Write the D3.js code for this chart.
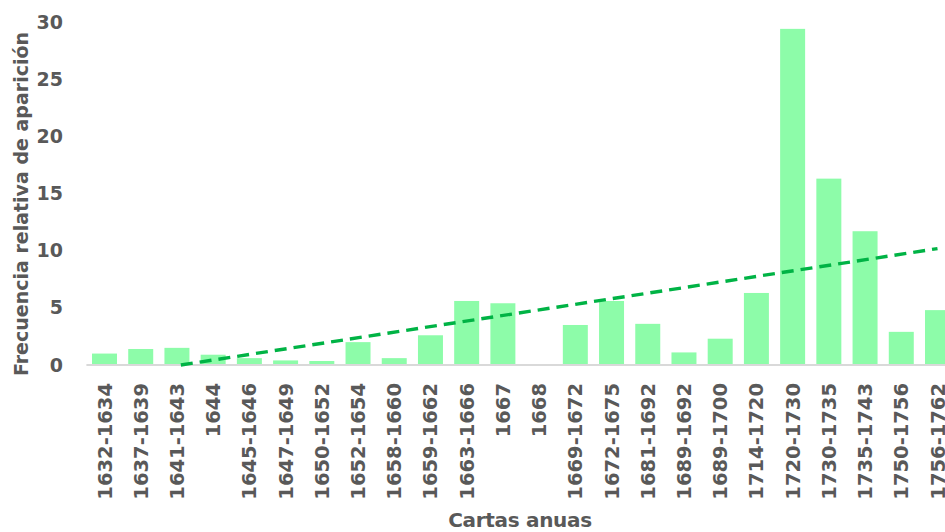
<!DOCTYPE html>
<html>
<head>
<meta charset="utf-8">
<script src="https://cdn.jsdelivr.net/npm/d3@7"></script>
<style>
  html, body { margin: 0; padding: 0; background: #fff; overflow: hidden; }
  svg { display: block; }
  text { font-family: "DejaVu Sans", Verdana, sans-serif; font-weight: bold; fill: #595959; }
</style>
</head>
<body>
<svg id="chart" width="945" height="532"></svg>
<script>
// Periods of the annual letters (Cartas anuas)
const periods = [
  "1632-1634", "1637-1639", "1641-1643", "1644", "1645-1646", "1647-1649",
  "1650-1652", "1652-1654", "1658-1660", "1659-1662", "1663-1666", "1667",
  "1668", "1669-1672", "1672-1675", "1681-1692", "1689-1692", "1689-1700",
  "1714-1720", "1720-1730", "1730-1735", "1735-1743", "1750-1756", "1756-1762"
];

// Relative frequency of appearance per period
const frequency = [
  1.0, 1.4, 1.5, 0.9, 0.6, 0.4,
  0.35, 2.0, 0.6, 2.6, 5.6, 5.4,
  0, 3.5, 5.6, 3.6, 1.1, 2.3,
  6.3, 29.4, 16.3, 11.7, 2.9, 4.8
];

const yTicks = [0, 5, 10, 15, 20, 25, 30];

const yTitle = "Frecuencia relativa de aparición";
const xTitle = "Cartas anuas";

const svg = d3.select("#chart");
const margin = { left: 86.4, right: 955.6, top: 22, bottom: 365 };

const x = d3.scaleBand()
  .domain(periods)
  .range([margin.left, margin.right])
  .paddingInner(0.31)
  .paddingOuter(0.155);

const y = d3.scaleLinear()
  .domain([0, 30])
  .range([margin.bottom, margin.top]);

// Bars
svg.append("g")
  .selectAll("rect")
  .data(periods.map((p, i) => ({ p, v: frequency[i] })))
  .join("rect")
  .attr("x", d => x(d.p))
  .attr("y", d => y(d.v))
  .attr("width", x.bandwidth())
  .attr("height", d => y(0) - y(d.v))
  .attr("fill", "#8dfca9");

// Category axis (baseline + rotated labels)
const xAxis = svg.append("g")
  .attr("transform", `translate(0,${y(0)})`)
  .call(d3.axisBottom(x).tickSize(0).tickPadding(0));
xAxis.select(".domain")
  .attr("d", `M${margin.left},0H945`)
  .attr("stroke", "#d9d9d9")
  .attr("stroke-width", 2);
xAxis.selectAll("text")
  .attr("transform", "rotate(-90)")
  .attr("text-anchor", "end")
  .attr("x", -18)
  .attr("y", 0)
  .attr("dy", "0.36em")
  .style("font-size", "19.5px")
  .style("fill", "#595959");

// Value axis labels
const yAxis = svg.append("g")
  .attr("transform", "translate(63,0)")
  .call(d3.axisLeft(y).tickValues(yTicks).tickSize(0).tickPadding(0));
yAxis.select(".domain").remove();
yAxis.selectAll("text")
  .style("font-size", "19px")
  .style("fill", "#595959")
  .style("font-family", "\"DejaVu Sans\", Verdana, sans-serif");

// Linear trend line (least squares over category index), clipped at zero
const n = frequency.length;
const idx = d3.range(n);
const mx = d3.mean(idx), my = d3.mean(frequency);
const slope = d3.sum(idx, i => (i - mx) * (frequency[i] - my)) / d3.sum(idx, i => (i - mx) ** 2);
const intercept = my - slope * mx;
const xStart = Math.max(0, -intercept / slope);
const center = i => {
  const lo = Math.floor(i), hi = Math.min(n - 1, lo + 1);
  const c0 = x(periods[lo]) + x.bandwidth() / 2;
  const c1 = x(periods[hi]) + x.bandwidth() / 2;
  return c0 + (c1 - c0) * (i - lo);
};
const trendPts = [xStart, n - 1].map(i => [center(i), y(intercept + slope * i)]);
svg.append("path")
  .attr("d", d3.line()(trendPts))
  .attr("fill", "none")
  .attr("stroke", "#00b345")
  .attr("stroke-width", 3.4)
  .attr("stroke-dasharray", "12,7");

// Axis titles
svg.append("text")
  .attr("transform", `translate(28,204) rotate(-90)`)
  .attr("text-anchor", "middle")
  .style("font-size", "19px")
  .text(yTitle);

svg.append("text")
  .attr("x", 520)
  .attr("y", 527)
  .attr("text-anchor", "middle")
  .style("font-size", "20px")
  .style("letter-spacing", "-0.3px")
  .text(xTitle);
</script>
</body>
</html>
